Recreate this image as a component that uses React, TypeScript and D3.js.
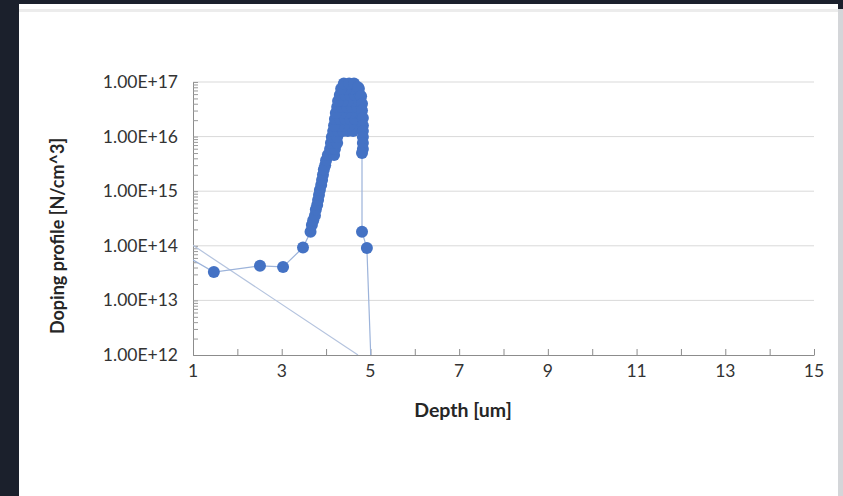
import React, { FC, useEffect, useRef } from "react"
import { axisBottom, axisLeft, line, range, scaleLinear, scaleLog, select } from "d3"

// doping profile, in drawing order (depth in um, doping in N/cm^3)
const profileDepth = [
  0.5, 1.47, 2.51, 3.03, 3.48, 3.65,
  3.68, 3.71, 3.75, 3.77, 3.8, 3.82, 3.84, 3.86, 3.89, 3.91, 3.93, 3.95, 3.98, 4.0, 4.04, 4.18,
  4.09, 4.2, 4.11, 4.25, 4.13, 4.25,
  4.16, 4.27, 4.38, 4.49, 4.61,
  4.63, 4.52, 4.4, 4.29, 4.18,
  4.2, 4.31, 4.43, 4.54, 4.65,
  4.67, 4.56, 4.45, 4.34, 4.22,
  4.25, 4.36, 4.47, 4.58, 4.7,
  4.72, 4.61, 4.49, 4.38, 4.27,
  4.31, 4.43, 4.54, 4.65, 4.76,
  4.74, 4.67, 4.56, 4.45, 4.34,
  4.4, 4.52, 4.63,
  4.72, 4.79, 4.81, 4.81, 4.83, 4.83, 4.83, 4.83, 4.83, 4.83, 4.81,
  4.81, 4.92, 5.03,
]
const profileDoping = [
  9.5e13, 3.3e13, 4.3e13, 4.1e13, 9.3e13, 1.8e14,
  2.4e14, 2.95e14, 3.6e14, 4.6e14, 5.6e14, 6.9e14, 8.5e14, 1.05e15, 1.3e15, 1.6e15, 2.0e15, 2.5e15, 3.0e15, 3.7e15, 4.6e15, 4.6e15,
  5.9e15, 5.9e15, 7.6e15, 7.6e15, 9.8e15, 9.8e15,
  1.26e16, 1.26e16, 1.26e16, 1.26e16, 1.26e16,
  1.6e16, 1.6e16, 1.6e16, 1.6e16, 1.6e16,
  2.1e16, 2.1e16, 2.1e16, 2.1e16, 2.1e16,
  2.7e16, 2.7e16, 2.7e16, 2.7e16, 2.7e16,
  3.5e16, 3.5e16, 3.5e16, 3.5e16, 3.5e16,
  4.5e16, 4.5e16, 4.5e16, 4.5e16, 4.5e16,
  5.8e16, 5.8e16, 5.8e16, 5.8e16, 5.8e16,
  7.5e16, 7.5e16, 7.5e16, 7.5e16, 7.5e16,
  9.4e16, 9.4e16, 9.4e16,
  8.0e16, 5.5e16, 4.0e16, 3.0e16, 2.2e16, 1.6e16, 1.26e16, 9.8e15, 7.6e15, 5.9e15, 5.0e15,
  1.8e14, 9.1e13, 3e11,
]

// thin straight trace crossing the lower left
const guideDepth = [1, 4.72]
const guideDoping = [1.02e14, 1e12]

const xTicks = [1, 3, 5, 7, 9, 11, 13, 15]
const yTicks = [1e12, 1e13, 1e14, 1e15, 1e16, 1e17]
const yTickLabels = ["1.00E+12", "1.00E+13", "1.00E+14", "1.00E+15", "1.00E+16", "1.00E+17"]

const DopingChart: FC = () => {
  const svgRef = useRef<SVGSVGElement>(null)

  useEffect(() => {
    const svg = select(svgRef.current)
    svg.selectAll("*").remove()

    const width = 843
    const height = 496
    const margins = { top: 82, left: 193, right: 29, bottom: 141 }
    const boundsWidth = width - margins.left - margins.right
    const boundsHeight = height - margins.top - margins.bottom

    // page + panel
    svg.append("rect").attr("width", width).attr("height", height).attr("fill", "#1b202c")
    svg.append("rect").attr("x", 19).attr("y", 4).attr("width", 819).attr("height", 492).attr("fill", "#ffffff")
    svg.append("rect").attr("x", 838).attr("y", 9).attr("width", 5).attr("height", 487).attr("fill", "#d4d6d9")
    svg.append("rect").attr("x", 19).attr("y", 9).attr("width", 819).attr("height", 3).attr("fill", "#ececec")

    const xScale = scaleLinear().domain([1, 15]).range([0, boundsWidth])
    const yScale = scaleLog().domain([1e12, 1e17]).range([boundsHeight, 0])

    const bounds = svg.append("g").attr("transform", `translate(${margins.left},${margins.top})`)

    // grid
    bounds
      .append("g")
      .selectAll("line")
      .data(yTicks.slice(1))
      .join("line")
      .attr("x1", 0)
      .attr("x2", boundsWidth)
      .attr("y1", (d) => yScale(d))
      .attr("y2", (d) => yScale(d))
      .attr("stroke", "#d9d9d9")
      .attr("stroke-width", 1)

    // y axis with minor log ticks inside
    const minorY = yTicks.slice(0, -1).flatMap((d) => range(1, 10).map((k) => d * k)).concat([1e17])
    const yAxis = bounds
      .append("g")
      .call(axisLeft(yScale).tickValues(minorY).tickSize(-5).tickFormat(() => ""))
    yAxis.select(".domain").attr("stroke", "#8c8c8c")
    yAxis.selectAll(".tick line").attr("stroke", "#9a9a9a")

    // x axis with ticks pointing up
    const xAxis = bounds
      .append("g")
      .attr("transform", `translate(0,${boundsHeight})`)
      .call(axisBottom(xScale).tickValues(range(2, 16)).tickSize(-6).tickSizeOuter(0).tickFormat(() => ""))
    xAxis.select(".domain").attr("stroke", "#8c8c8c")
    xAxis.selectAll(".tick line").attr("stroke", "#8c8c8c")

    const font = "Lato, 'DejaVu Sans', sans-serif"

    bounds
      .append("g")
      .selectAll("text")
      .data(xTicks)
      .join("text")
      .attr("x", (d) => xScale(d))
      .attr("y", boundsHeight + 22)
      .attr("text-anchor", "middle")
      .attr("font-family", font)
      .attr("font-size", 17.5)
      .attr("fill", "#333333")
      .text((d) => d)

    bounds
      .append("g")
      .selectAll("text")
      .data(yTicks)
      .join("text")
      .attr("x", -15)
      .attr("y", (d) => yScale(d) + 6)
      .attr("text-anchor", "end")
      .attr("font-family", font)
      .attr("font-size", 17.5)
      .attr("fill", "#333333")
      .text((_, i) => yTickLabels[i])

    // connecting lines, clipped to the plot area
    svg
      .append("clipPath")
      .attr("id", "plot-clip")
      .append("rect")
      .attr("width", boundsWidth)
      .attr("height", boundsHeight)
    const plot = bounds.append("g").attr("clip-path", "url(#plot-clip)")

    const profileLine = line<number>()
      .x((d) => xScale(d))
      .y((_, i) => yScale(profileDoping[i]))
    const guideLine = line<number>()
      .x((d) => xScale(d))
      .y((_, i) => yScale(guideDoping[i]))

    plot
      .append("path")
      .attr("d", guideLine(guideDepth))
      .attr("fill", "none")
      .attr("stroke", "#b4c3de")
      .attr("stroke-width", 1.2)

    plot
      .append("path")
      .attr("d", profileLine(profileDepth))
      .attr("fill", "none")
      .attr("stroke", "#9cb3da")
      .attr("stroke-width", 1.2)

    // markers (only those inside the axis ranges)
    bounds
      .append("g")
      .selectAll("circle")
      .data(profileDepth.map((d, i) => [d, profileDoping[i]]).filter(([d, v]) => d >= 1 && v >= 1e12))
      .join("circle")
      .attr("cx", (d) => xScale(d[0]))
      .attr("cy", (d) => yScale(d[1]))
      .attr("r", 6)
      .attr("fill", "#4472c4")

    // axis titles
    svg
      .append("text")
      .attr("x", 463)
      .attr("y", 417)
      .attr("text-anchor", "middle")
      .attr("font-family", font)
      .attr("font-weight", "bold")
      .attr("font-size", 19.5)
      .attr("fill", "#262626")
      .text("Depth [um]")

    svg
      .append("text")
      .attr("transform", "translate(64,236) rotate(-90)")
      .attr("text-anchor", "middle")
      .attr("font-family", font)
      .attr("font-weight", "bold")
      .attr("font-size", 18)
      .attr("fill", "#262626")
      .text("Doping profile [N/cm^3]")
  }, [])

  return (
    <svg
      ref={svgRef}
      width={843}
      height={496}
      style={{ position: "absolute", left: 0, top: 0, display: "block" }}
    />
  )
}

export default function App() {
  return <DopingChart />
}
